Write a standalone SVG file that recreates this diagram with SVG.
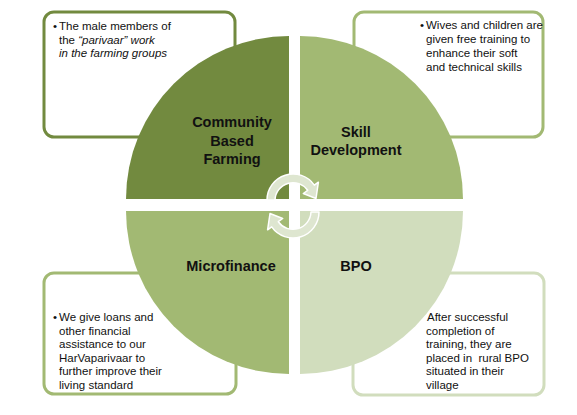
<svg xmlns="http://www.w3.org/2000/svg" width="577" height="415" viewBox="0 0 577 415">
<style>
.box{fill:#fff;stroke-width:3}
.bt{font-family:"Liberation Sans",Arial,sans-serif;font-size:11.5px;fill:#111}
.lbl{font-family:"Liberation Sans",Arial,sans-serif;font-size:14.5px;font-weight:bold;fill:#111;text-anchor:middle}
.arr{fill:#DEE6D0;stroke:#fff;stroke-width:1.5;stroke-linejoin:round}
</style>
<rect width="577" height="415" fill="#fff"/>
<g id="box-tl">
<rect class="box" x="44" y="12" width="191" height="125" rx="10" stroke="#728A3F"/>
<text class="bt" x="53" y="30">•</text>
<text class="bt" x="59" y="30">The male members of</text>
<text class="bt" x="59" y="44">the <tspan font-style="italic">“parivaar” work</tspan></text>
<text class="bt" x="59" y="57" font-style="italic">in the farming groups</text>
</g>
<g id="box-tr">
<rect class="box" x="354" y="12" width="189" height="125" rx="10" stroke="#A2B973"/>
<text class="bt" x="420" y="29">•</text>
<text class="bt" x="426" y="29">Wives and children are</text>
<text class="bt" x="426" y="43">given free training to</text>
<text class="bt" x="426" y="57">enhance their soft</text>
<text class="bt" x="426" y="71">and technical skills</text>
</g>
<g id="box-bl">
<rect class="box" x="44" y="273" width="192" height="121" rx="10" stroke="#A2B973"/>
<text class="bt" x="53" y="321">•</text>
<text class="bt" x="59" y="321">We give loans and</text>
<text class="bt" x="59" y="334.5">other financial</text>
<text class="bt" x="59" y="348">assistance to our</text>
<text class="bt" x="59" y="361.5">HarVaparivaar to</text>
<text class="bt" x="59" y="375">further improve their</text>
<text class="bt" x="59" y="388.5">living standard</text>
</g>
<g id="box-br">
<rect class="box" x="353" y="273" width="191" height="122" rx="10" stroke="#D1DDBD"/>
<text class="bt" x="427" y="321">After successful</text>
<text class="bt" x="426" y="334.5">completion of</text>
<text class="bt" x="426" y="348">training, they are</text>
<text class="bt" x="426" y="361.5">placed in&#160; rural BPO</text>
<text class="bt" x="426" y="375">situated in their</text>
<text class="bt" x="426" y="388.5">village</text>
</g>
<g id="q-community">
<path d="M289,199 L126,199 A163,163 0 0 1 289,36 Z" fill="#728A3F"/>
<text class="lbl" x="232" y="127">Community</text>
<text class="lbl" x="232" y="146">Based</text>
<text class="lbl" x="232" y="164">Farming</text>
</g>
<g id="q-skill">
<path d="M300,199 L300,36 A163,163 0 0 1 463,199 Z" fill="#A2B973"/>
<text class="lbl" x="356" y="137">Skill</text>
<text class="lbl" x="356" y="155">Development</text>
</g>
<g id="q-micro">
<path d="M289,211 L289,374 A163,163 0 0 1 126,211 Z" fill="#A2B973"/>
<text class="lbl" x="231" y="271">Microfinance</text>
</g>
<g id="q-bpo">
<path d="M300,211 L463,211 A163,163 0 0 1 300,374 Z" fill="#D1DDBD"/>
<text class="lbl" x="356" y="271">BPO</text>
</g>
<g id="connectors">
<path class="arr" d="M267,200 A26,26 0 0 1 314.3,185.1 L318.4,182.2 L316,198.5 L303.3,193.5 L307.7,190.3 A18,18 0 0 0 275,200 Z"/>
<path class="arr" transform="rotate(180 293 206)" d="M267,200 A26,26 0 0 1 314.3,185.1 L318.4,182.2 L316,198.5 L303.3,193.5 L307.7,190.3 A18,18 0 0 0 275,200 Z"/>
</g>
</svg>
